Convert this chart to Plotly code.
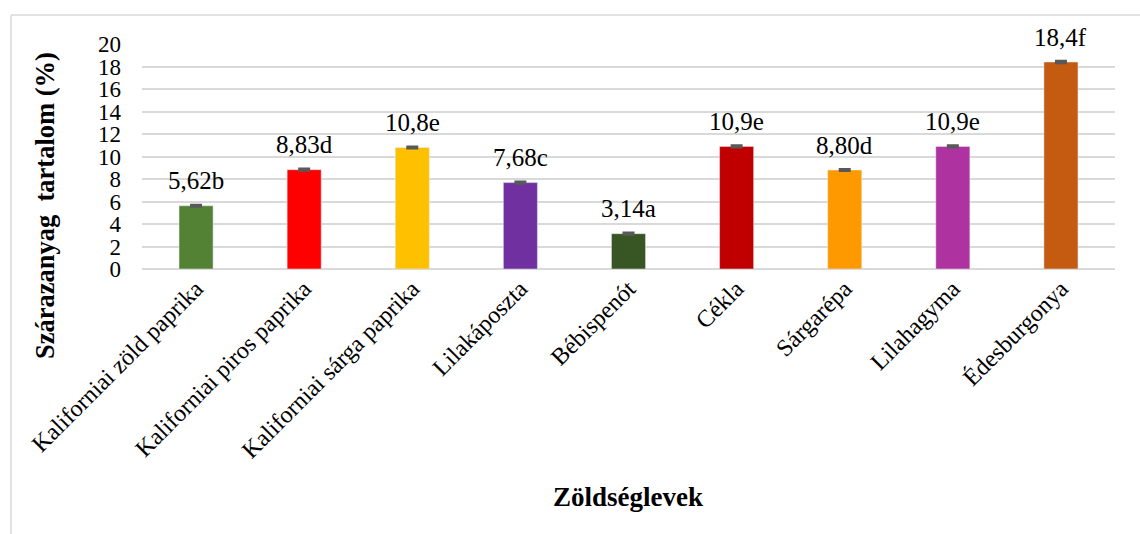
import plotly.graph_objects as go

categories = ["Kaliforniai zöld paprika", "Kaliforniai piros paprika", "Kaliforniai sárga paprika",
              "Lilakáposzta", "Bébispenót", "Cékla", "Sárgarépa", "Lilahagyma", "Édesburgonya"]
values = [5.62, 8.83, 10.8, 7.68, 3.14, 10.9, 8.80, 10.9, 18.4]
errors = [0.05, 0.05, 0.05, 0.05, 0.05, 0.05, 0.05, 0.05, 0.07]
labels = ["5,62b", "8,83d", "10,8e", "7,68c", "3,14a", "10,9e", "8,80d", "10,9e", "18,4f"]
colors = ["#548235", "#FF0000", "#FFC000", "#7030A0", "#375623", "#C00000", "#FF9900", "#AE32A0", "#C55A11"]
y_ticks = [0, 2, 4, 6, 8, 10, 12, 14, 16, 18, 20]

W, H = 1140, 534
L, R, T, B = 142, 25, 44, 265
pw, ph = W - L - R, H - T - B

def px(x):
    return (x - L) / pw

def py(y):
    return 1 - (y - T) / ph

FONT = "Liberation Serif"

fig = go.Figure(go.Bar(
    x=categories, y=values, marker_color=colors, width=0.315,
    error_y=dict(type="data", array=errors, visible=True, color="#595959", thickness=3, width=6),
    hoverinfo="skip",
))

for c, v, t in zip(categories, values, labels):
    fig.add_annotation(x=c, y=v, text=t, showarrow=False, yanchor="middle", yshift=25,
                       font=dict(family=FONT, size=25, color="#000000"))

fig.add_annotation(xref="paper", yref="paper", x=px(45), y=py(206), text="<b>Szárazanyag  tartalom (%)</b>",
                   textangle=-90, showarrow=False, xanchor="center", yanchor="middle",
                   font=dict(family=FONT, size=26.5, color="#000000"))
fig.add_annotation(xref="paper", yref="paper", x=px(628), y=py(497), text="<b>Zöldséglevek</b>",
                   showarrow=False, xanchor="center", yanchor="middle",
                   font=dict(family=FONT, size=27, color="#000000"))

# chart frame (top and left edges visible)
fig.add_shape(type="line", xref="paper", yref="paper", x0=px(11), x1=px(1140), y0=py(15), y1=py(15),
              line=dict(color="#D9D9D9", width=1.5))
fig.add_shape(type="line", xref="paper", yref="paper", x0=px(11), x1=px(11), y0=py(15), y1=py(534),
              line=dict(color="#D9D9D9", width=1.5))

fig.update_layout(
    width=W, height=H, margin=dict(l=L, r=R, t=T, b=B),
    paper_bgcolor="white", plot_bgcolor="white", showlegend=False,
    font=dict(family=FONT, color="#000000"),
    xaxis=dict(tickangle=-45, tickfont=dict(family=FONT, size=24, color="#000000"),
               showgrid=False, showline=False, ticks=""),
    yaxis=dict(range=[0, 20], tickvals=y_ticks, ticktext=[str(v) for v in y_ticks],
               tickfont=dict(family=FONT, size=23, color="#000000"), ticklabelstandoff=20,
               showgrid=True, gridcolor="#D9D9D9", gridwidth=2,
               zeroline=True, zerolinecolor="#D9D9D9", zerolinewidth=2, ticks="", showline=False),
)

fig.write_html("out.html", config={"displayModeBar": False},
               post_script="document.body.style.margin='0';document.body.style.overflow='hidden';")
